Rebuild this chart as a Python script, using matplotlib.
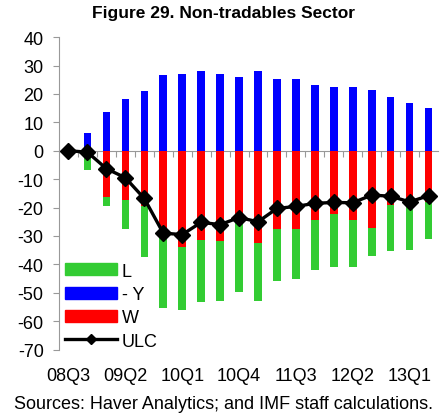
import numpy as np
import matplotlib
matplotlib.use('Agg')
import matplotlib.pyplot as plt
from matplotlib.patches import Patch
from matplotlib.lines import Line2D

plt.rcParams['font.family'] = ['Liberation Sans', 'DejaVu Sans']
plt.rcParams['axes.unicode_minus'] = False

# Данные
quarters = ['08Q3', '08Q4', '09Q1', '09Q2', '09Q3', '09Q4', '10Q1', '10Q2', '10Q3', '10Q4',
            '11Q1', '11Q2', '11Q3', '11Q4', '12Q1', '12Q2', '12Q3', '12Q4', '13Q1', '13Q2']
W = [0, 0, -16.2, -17.5, -19.5, -30.5, -33.9, -31.5, -31.8, -25.0,
     -32.6, -27.5, -27.5, -24.2, -22.4, -24.5, -27.1, -19.1, -19.3, -18.0]
L = [0, -6.6, -3.3, -10.0, -18.0, -24.8, -22.0, -21.8, -21.0, -24.8,
     -20.2, -18.3, -17.5, -17.6, -18.6, -16.5, -10.0, -16.2, -15.7, -12.9]
negY = [0, 6.1, 13.8, 18.1, 20.9, 26.5, 27.0, 27.9, 27.0, 26.1,
        27.9, 25.2, 25.2, 23.0, 22.6, 22.6, 21.3, 19.0, 16.9, 15.1]
ULC = [0, -0.5, -6.3, -9.5, -16.8, -29.0, -29.5, -25.2, -26.0, -23.5,
       -25.0, -20.3, -19.6, -18.5, -18.2, -18.3, -15.6, -16.0, -18.0, -15.8]

green = '#33CC33'
blue = '#0000FF'
red = '#FF0000'

x = np.arange(len(quarters))
w = 0.4

fig = plt.figure(figsize=(4.47, 4.14), dpi=100)
ax = fig.add_axes([0.132, 0.153, 0.848, 0.755])

ax.bar(x, negY, width=w, color=blue, zorder=2)
ax.bar(x, W, width=w, color=red, zorder=2)
ax.bar(x, L, width=w, bottom=W, color=green, zorder=2)
ax.plot(x, ULC, color='black', linewidth=2.4, marker='D', markersize=8.5, zorder=4)

ax.set_xlim(-0.5, len(quarters) - 0.5)
ax.set_ylim(-70, 40)
ax.set_yticks(range(-70, 41, 10))
ax.tick_params(axis='y', labelsize=13, direction='out', length=4, color='#999999', pad=7)

# ось X на нуле, засечки между кварталами
for s in ['top', 'right']:
    ax.spines[s].set_visible(False)
ax.spines['left'].set_color('#999999')
ax.spines['bottom'].set_position(('data', 0))
ax.spines['bottom'].set_color('#999999')
ax.spines['bottom'].set_zorder(1)
ax.set_xticks(np.arange(0.5, len(quarters) - 0.5, 1))
ax.set_xticklabels([])
ax.tick_params(axis='x', direction='out', length=4, color='#999999')

trans = ax.get_xaxis_transform()
for i in range(0, len(quarters), 3):
    ax.text(i, -0.055, quarters[i], transform=trans, ha='center', va='top', fontsize=13)

handles = [Patch(color=green, label='L'),
           Patch(color=blue, label='- Y'),
           Patch(color=red, label='W'),
           Line2D([0], [0], color='black', linewidth=2.4, marker='D', markersize=5, label='ULC')]
ax.legend(handles=handles, loc='lower left', bbox_to_anchor=(0.015, 0.0), frameon=False,
          fontsize=13, handlelength=2.9, handleheight=0.65, handletextpad=0.25,
          labelspacing=0.35, borderpad=0, borderaxespad=0)

fig.text(0.5, 0.968, 'Figure 29. Non-tradables Sector', ha='center', va='center',
         fontsize=12.5, fontweight='bold')
fig.text(0.5, 0.022, 'Sources: Haver Analytics; and IMF staff calculations.', ha='center',
         va='center', fontsize=13)

fig.savefig('out.png', dpi=100)
